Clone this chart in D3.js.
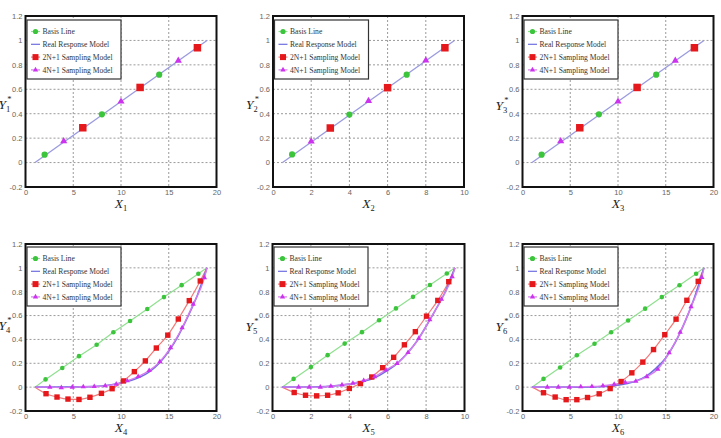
<!DOCTYPE html>
<html>
<head>
<meta charset="utf-8">
<script src="https://cdnjs.cloudflare.com/ajax/libs/d3/7.8.5/d3.min.js"></script>
<style>
  body { margin: 0; background: #fff; }
  svg { display: block; }
</style>
</head>
<body>
<div id="chart"></div>
<script>
// ---- values ----
var yTicks = [-0.2, 0, 0.2, 0.4, 0.6, 0.8, 1, 1.2];
var xTicks20 = [0, 5, 10, 15, 20];
var xTicks10 = [0, 2, 4, 6, 8, 10];
var legendNames = ["Basis Line", "Real Response Model", "2N+1 Sampling Model", "4N+1 Sampling Model"];
var subs = ["1", "2", "3", "4", "5", "6"];

// top row, X range 0..20 (panels 1 and 3)
var basisX1 = [2, 8, 14], basisY1 = [0.065, 0.395, 0.72];
var s2nX1 = [6, 12, 18], s2nY1 = [0.285, 0.615, 0.94];
var s4nX1 = [4, 10, 16], s4nY1 = [0.175, 0.5, 0.835];
var realX1 = [1, 19], realY1 = [0, 1];

// top row, X range 0..10 (panel 2)
var basisX2 = [1, 4, 7], basisY2 = [0.067, 0.393, 0.72];
var s2nX2 = [3, 6, 9], s2nY2 = [0.283, 0.613, 0.94];
var s4nX2 = [2, 5, 8], s4nY2 = [0.174, 0.505, 0.837];
var realX2 = [0.5, 9.5], realY2 = [0, 1];

// panel 4
var basisX4 = [2.1, 3.85, 5.6, 7.45, 9.2, 10.95, 12.75, 14.5, 16.35, 18.1];
var basisY4 = [0.065, 0.16, 0.26, 0.355, 0.46, 0.555, 0.655, 0.755, 0.855, 0.95];
var s2nX4 = [2.15, 3.3, 4.45, 5.6, 6.75, 7.95, 9.07, 10.25, 11.4, 12.55, 13.7, 14.9, 16.0, 17.15, 18.3];
var s2nY4 = [-0.055, -0.083, -0.1, -0.103, -0.085, -0.052, -0.013, 0.052, 0.13, 0.22, 0.328, 0.436, 0.571, 0.725, 0.89];
var s4nX4 = [2.55, 3.75, 4.9, 6.05, 7.2, 8.35, 9.5, 10.65, 11.8, 12.95, 14.07, 15.2, 16.4, 17.56, 18.74];
var s4nY4 = [0.0, -0.004, 0.0, 0.003, 0.005, 0.011, 0.025, 0.053, 0.089, 0.139, 0.214, 0.331, 0.498, 0.696, 0.918];
var realX4 = [1, 4, 7, 9, 10.5, 12, 13, 14, 15, 16, 17, 18, 19];
var realY4 = [0, 0, 0.004, 0.02, 0.045, 0.085, 0.13, 0.2, 0.3, 0.43, 0.59, 0.77, 1];

// panel 5
var basisX5 = [1.1, 2.0, 2.87, 3.76, 4.66, 5.55, 6.43, 7.32, 8.2, 9.08];
var basisY5 = [0.069, 0.169, 0.268, 0.365, 0.461, 0.561, 0.66, 0.757, 0.856, 0.953];
var s2nX5 = [1.13, 1.72, 2.3, 2.87, 3.42, 4.0, 4.58, 5.17, 5.74, 6.31, 6.87, 7.44, 8.02, 8.61, 9.18];
var s2nY5 = [-0.045, -0.068, -0.073, -0.068, -0.048, -0.011, 0.03, 0.085, 0.163, 0.25, 0.355, 0.465, 0.595, 0.727, 0.884];
var s4nX5 = [1.36, 1.91, 2.49, 3.04, 3.62, 4.19, 4.75, 5.32, 5.91, 6.49, 7.06, 7.62, 8.19, 8.8, 9.36];
var s4nY5 = [0, 0, 0, 0.008, 0.019, 0.033, 0.055, 0.088, 0.144, 0.199, 0.29, 0.409, 0.566, 0.737, 0.925];
var realX5 = [0.5, 2, 3.5, 4.5, 5.2, 6, 6.5, 7, 7.5, 8, 8.5, 9, 9.5];
var realY5 = [0, 0.001, 0.015, 0.04, 0.07, 0.14, 0.2, 0.28, 0.38, 0.51, 0.65, 0.8, 1];

// panel 6
var basisX6 = [2.2, 3.94, 5.69, 7.54, 9.28, 11.06, 12.84, 14.59, 16.44, 18.18];
var basisY6 = [0.069, 0.165, 0.267, 0.364, 0.46, 0.559, 0.658, 0.755, 0.854, 0.95];
var s2nX6 = [2.2, 3.42, 4.57, 5.69, 6.81, 8.03, 9.18, 10.33, 11.45, 12.6, 13.72, 14.9, 16.08, 17.21, 18.4];
var s2nY6 = [-0.047, -0.083, -0.105, -0.105, -0.087, -0.056, -0.012, 0.047, 0.12, 0.21, 0.315, 0.44, 0.57, 0.728, 0.887];
var s4nX6 = [2.6, 3.75, 4.9, 6.1, 7.27, 8.42, 9.6, 10.75, 11.87, 13.02, 14.17, 15.36, 16.51, 17.65, 18.78];
var s4nY6 = [0, 0, 0, 0.004, 0.005, 0.011, 0.024, 0.04, 0.05, 0.088, 0.15, 0.289, 0.46, 0.675, 0.92];
var realX6 = [1, 6, 9, 11, 12, 13, 14, 15, 16, 17, 18, 19];
var realY6 = [0, 0, 0.008, 0.03, 0.055, 0.095, 0.16, 0.245, 0.375, 0.545, 0.75, 1];

function pts(xs, ys) { return xs.map(function (v, i) { return [v, ys[i]]; }); }

var panels = [
    { xMax: 20, xTicks: xTicks20, basis: pts(basisX1, basisY1), s2n: pts(s2nX1, s2nY1), s4n: pts(s4nX1, s4nY1), real: pts(realX1, realY1), curves: false },
    { xMax: 10, xTicks: xTicks10, basis: pts(basisX2, basisY2), s2n: pts(s2nX2, s2nY2), s4n: pts(s4nX2, s4nY2), real: pts(realX2, realY2), curves: false },
    { xMax: 20, xTicks: xTicks20, basis: pts(basisX1, basisY1), s2n: pts(s2nX1, s2nY1), s4n: pts(s4nX1, s4nY1), real: pts(realX1, realY1), curves: false },
    { xMax: 20, xTicks: xTicks20, basis: pts(basisX4, basisY4), s2n: pts(s2nX4, s2nY4), s4n: pts(s4nX4, s4nY4), real: pts(realX4, realY4), curves: true },
    { xMax: 10, xTicks: xTicks10, basis: pts(basisX5, basisY5), s2n: pts(s2nX5, s2nY5), s4n: pts(s4nX5, s4nY5), real: pts(realX5, realY5), curves: true },
    { xMax: 20, xTicks: xTicks20, basis: pts(basisX6, basisY6), s2n: pts(s2nX6, s2nY6), s4n: pts(s4nX6, s4nY6), real: pts(realX6, realY6), curves: true }
];

// ---- layout ----
var colLeft = [[25.5, 273, 522.5], [25.5, 272.5, 522.5]];
var colRight = [[216.5, 464, 713.5], [216.5, 464.5, 713.5]];
var rowTop = [16, 244], rowBottom = [187, 411];
var yLabelBase = [109, 109, 110, 330, 331, 331];

var green = "#3cc43c", greenLine = "#8fe08f";
var red = "#e5191c", redLine = "#f27a7a";
var mag = "#cc33ee", magLine = "#d67cf0";
var blue = "#6f6ee0", blueTop = "#9a9ae0";

var svg = d3.select("#chart").append("svg")
    .attr("width", 721).attr("height", 438)
    .style("background", "#fff");

panels.forEach(function (p, i) {
    var row = Math.floor(i / 3), col = i % 3;
    var left = colLeft[row][col], right = colRight[row][col];
    var top = rowTop[row], bottom = rowBottom[row];
    var big = !p.curves;

    var x = d3.scaleLinear().domain([0, p.xMax]).range([left, right]);
    var y = d3.scaleLinear().domain([-0.2, 1.2]).range([bottom, top]);
    var g = svg.append("g");

    // grid
    g.selectAll(".gx").data(p.xTicks.slice(1, -1)).enter().append("line")
        .attr("x1", function (d) { return x(d); }).attr("x2", function (d) { return x(d); })
        .attr("y1", top).attr("y2", bottom)
        .attr("stroke", "#9a9a9a").attr("stroke-width", 1).attr("stroke-dasharray", "2,2");
    g.selectAll(".gy").data(yTicks.slice(1, -1)).enter().append("line")
        .attr("y1", function (d) { return y(d); }).attr("y2", function (d) { return y(d); })
        .attr("x1", left).attr("x2", right)
        .attr("stroke", "#9a9a9a").attr("stroke-width", 1).attr("stroke-dasharray", "2,2");

    // axes (labels only)
    var fmt = function (d) { return String(d); };
    var ax = g.append("g").attr("transform", "translate(0," + bottom + ")")
        .call(d3.axisBottom(x).tickValues(p.xTicks).tickSize(0).tickPadding(3).tickFormat(fmt));
    var ay = g.append("g").attr("transform", "translate(" + left + ",0)")
        .call(d3.axisLeft(y).tickValues(yTicks).tickSize(0).tickPadding(3).tickFormat(fmt));
    [ax, ay].forEach(function (a) {
        a.select(".domain").remove();
        a.selectAll("text").attr("fill", "#666").style("font-family", "'Liberation Sans', Arial, sans-serif").style("font-size", "7.5px");
    });

    // lines
    var lin = d3.line().x(function (d) { return x(d[0]); }).y(function (d) { return y(d[1]); });
    var smooth = d3.line().x(function (d) { return x(d[0]); }).y(function (d) { return y(d[1]); }).curve(d3.curveMonotoneX);
    var start = p.real[0], end = p.real[p.real.length - 1];

    if (p.curves) {
        g.append("path").attr("d", lin([start].concat(p.basis, [end])))
            .attr("fill", "none").attr("stroke", greenLine).attr("stroke-width", 1.2);
        g.append("path").attr("d", smooth([start].concat(p.s2n, [end])))
            .attr("fill", "none").attr("stroke", redLine).attr("stroke-width", 1.2);
        g.append("path").attr("d", smooth(p.real))
            .attr("fill", "none").attr("stroke", blue).attr("stroke-width", 1.6);
        g.append("path").attr("d", smooth([start].concat(p.s4n, [end])))
            .attr("fill", "none").attr("stroke", magLine).attr("stroke-width", 1.4);
    } else {
        g.append("path").attr("d", lin(p.real))
            .attr("fill", "none").attr("stroke", blueTop).attr("stroke-width", 1.3);
    }

    // markers
    var rC = big ? 3.1 : 2.3, sq = big ? 7.5 : 5.4, tri = big ? 22 : 12;
    g.selectAll(".mb").data(p.basis).enter().append("circle")
        .attr("cx", function (d) { return x(d[0]); }).attr("cy", function (d) { return y(d[1]); })
        .attr("r", rC).attr("fill", green);
    g.selectAll(".ms").data(p.s2n).enter().append("rect")
        .attr("x", function (d) { return x(d[0]) - sq / 2; }).attr("y", function (d) { return y(d[1]) - sq / 2; })
        .attr("width", sq).attr("height", sq).attr("fill", red);
    g.selectAll(".mt").data(p.s4n).enter().append("path")
        .attr("transform", function (d) { return "translate(" + x(d[0]) + "," + y(d[1]) + ")"; })
        .attr("d", d3.symbol(d3.symbolTriangle, tri)).attr("fill", mag);

    // frame
    g.append("rect").attr("x", left).attr("y", top)
        .attr("width", right - left).attr("height", bottom - top)
        .attr("fill", "none").attr("stroke", "#111").attr("stroke-width", 2);

    // legend
    var lx = left + 1.5, ly = top + (row === 0 ? 4 : 3);
    var lg = g.append("g").attr("transform", "translate(" + lx + "," + ly + ")");
    lg.append("rect").attr("width", 94).attr("height", 59)
        .attr("fill", "#fff").attr("stroke", "#333").attr("stroke-width", 1.2);
    var lineCols = [greenLine, blue, redLine, magLine];
    legendNames.forEach(function (name, k) {
        var yy = 11.5 + k * 12.8;
        lg.append("line").attr("x1", 4).attr("x2", 13).attr("y1", yy).attr("y2", yy)
            .attr("stroke", lineCols[k]).attr("stroke-width", 1.2);
        if (k === 0) lg.append("circle").attr("cx", 8.5).attr("cy", yy).attr("r", 2.6).attr("fill", green);
        if (k === 2) lg.append("rect").attr("x", 8.5 - 3).attr("y", yy - 3).attr("width", 6).attr("height", 6).attr("fill", red);
        if (k === 3) lg.append("path").attr("transform", "translate(8.5," + yy + ")")
            .attr("d", d3.symbol(d3.symbolTriangle, 12)).attr("fill", mag);
        lg.append("text").attr("x", 15.5).attr("y", yy + 2.6)
            .style("font-family", "'Liberation Serif', 'Times New Roman', serif")
            .style("font-size", "7.6px").attr("fill", "#333").text(name);
    });

    // axis titles
    var xl = g.append("text").attr("x", (left + right) / 2).attr("y", bottom + 21)
        .attr("text-anchor", "middle").attr("fill", "#222")
        .style("font-family", "'Liberation Serif', 'Times New Roman', serif");
    xl.append("tspan").style("font-style", "italic").style("font-size", "13.5px").text("X");
    xl.append("tspan").style("font-size", "8.5px").attr("dy", 3).text(subs[i]);

    var yl = g.append("text").attr("x", left - 27).attr("y", yLabelBase[i]).attr("fill", "#222")
        .style("font-family", "'Liberation Serif', 'Times New Roman', serif");
    yl.append("tspan").style("font-style", "italic").style("font-size", "13.5px").text("Y");
    yl.append("tspan").style("font-size", "8.5px").attr("dy", 3).text(subs[i]);
    yl.append("tspan").style("font-size", "8.5px").attr("dx", -3).attr("dy", -10).text("*");
});
</script>
</body>
</html>
